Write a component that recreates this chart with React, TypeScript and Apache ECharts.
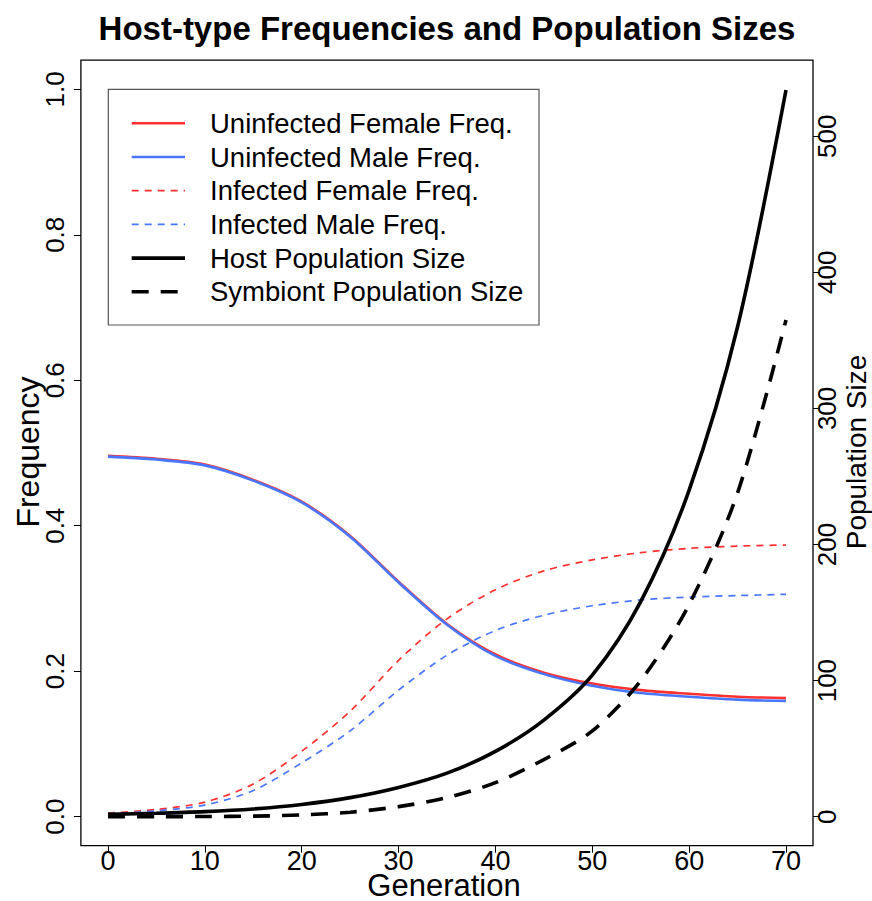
import React, { useEffect, useRef } from "react";
import * as echarts from "echarts";

// Generations sampled every 5 steps
const generations = [0, 5, 10, 15, 20, 25, 30, 35, 40, 45, 50, 55, 60, 65, 70];

// Host-type frequencies (left axis)
const uninfectedFemale = [0.496, 0.492, 0.484, 0.463, 0.433, 0.386, 0.323, 0.265, 0.223, 0.198, 0.183, 0.174, 0.169, 0.165, 0.163];
const uninfectedMale = [0.495, 0.491, 0.483, 0.462, 0.432, 0.385, 0.322, 0.264, 0.221, 0.196, 0.18, 0.17, 0.165, 0.161, 0.159];
const infectedFemale = [0.005, 0.01, 0.02, 0.045, 0.09, 0.145, 0.215, 0.272, 0.312, 0.338, 0.353, 0.363, 0.369, 0.372, 0.3735];
const infectedMale = [0.004, 0.008, 0.016, 0.036, 0.074, 0.118, 0.174, 0.222, 0.256, 0.277, 0.29, 0.298, 0.302, 0.304, 0.3057];

// Population sizes (right axis)
const hostPopulation = [1.7, 2.5, 3.7, 5.7, 9, 14, 21.5, 32, 48, 71, 104, 158, 240, 360, 534];
const symbiontPopulation = [0.01, 0.04, 0.13, 0.4, 1.3, 3.3, 7.4, 14, 25, 42, 63, 100, 156, 238, 365];

const seriesNames = [
  "Uninfected Female Freq.",
  "Uninfected Male Freq.",
  "Infected Female Freq.",
  "Infected Male Freq.",
  "Host Population Size",
  "Symbiont Population Size",
];

const TITLE = "Host-type Frequencies and Population Sizes";
const X_TITLE = "Generation";
const Y_LEFT_TITLE = "Frequency";
const Y_RIGHT_TITLE = "Population Size";

const RED = "#FF3030";
const BLUE = "#4876FF";
const BLACK = "#000000";
const FONT = "'Liberation Sans', Arial, Helvetica, sans-serif";

// Layout (pixels)
const W = 872;
const H = 901;
const dataLeft = 108;
const dataRight = 786;
const dataTop = 89.3; // frequency 1.0
const dataBottom = 816.7; // frequency 0.0 / population 0
const popAtTop = 534.5; // population value level with frequency 1.0
const popAxisMax = 500;
const box = { x1: 80.9, y1: 60.2, x2: 813, y2: 845.7 };

type LineDef = { color: string; width: number; dash: number[] | "solid" };
const styles: LineDef[] = [
  { color: RED, width: 2.6, dash: "solid" },
  { color: BLUE, width: 2.6, dash: "solid" },
  { color: RED, width: 1.7, dash: [7, 6] },
  { color: BLUE, width: 1.7, dash: [7, 6] },
  { color: BLACK, width: 3.6, dash: "solid" },
  { color: BLACK, width: 3.6, dash: [17, 12] },
];

const values = [uninfectedFemale, uninfectedMale, infectedFemale, infectedMale, hostPopulation, symbiontPopulation];

export default function App() {
  const ref = useRef<HTMLDivElement>(null);

  useEffect(() => {
    document.body.style.margin = "0";
    if (!ref.current) return;
    const chart = echarts.init(ref.current, undefined, { renderer: "svg" });

    const popGridTop = dataBottom - (popAxisMax / popAtTop) * (dataBottom - dataTop);

    const series = values.map((arr, i) => {
      const st = styles[i];
      const isPop = i >= 4;
      return {
        type: "line",
        name: seriesNames[i],
        xAxisIndex: isPop ? 1 : 0,
        yAxisIndex: isPop ? 1 : 0,
        data: generations.map((g, k) => [g, arr[k]]),
        showSymbol: false,
        symbol: "none",
        smooth: 0.3,
        clip: false,
        silent: true,
        lineStyle: { color: st.color, width: st.width, type: st.dash },
        z: 2 + i,
      };
    });

    const tickStyle = { show: true, length: 7, lineStyle: { color: "#000", width: 1 } };
    const hiddenLine = { show: false, onZero: false };

    // Legend drawn as a framed block
    const legX = 108.3;
    const legY = 89.3;
    const legW = 430.7;
    const legH = 235.7;
    const rowY0 = 123.3;
    const rowStep = 33.7;
    const legendChildren: any[] = [
      {
        type: "rect",
        shape: { x: legX, y: legY, width: legW, height: legH },
        style: { fill: "#fff", stroke: "#555", lineWidth: 1.2 },
      },
    ];
    seriesNames.forEach((name, i) => {
      const st = styles[i];
      const y = rowY0 + i * rowStep;
      legendChildren.push({
        type: "line",
        shape: { x1: 131.7, y1: y, x2: 185, y2: y },
        style: {
          stroke: st.color,
          lineWidth: st.width,
          lineDash: st.dash === "solid" ? null : st.dash,
        },
      });
      legendChildren.push({
        type: "text",
        x: 210,
        y,
        style: {
          text: name,
          fontSize: 27.5,
          fontFamily: FONT,
          fill: "#000",
          align: "left",
          verticalAlign: "middle",
        },
      });
    });

    chart.setOption({
      animation: false,
      backgroundColor: "#ffffff",
      textStyle: { fontFamily: FONT },
      grid: [
        { left: dataLeft, right: W - dataRight, top: dataTop, bottom: H - dataBottom },
        { left: dataLeft, right: W - dataRight, top: popGridTop, bottom: H - dataBottom },
      ],
      xAxis: [
        {
          type: "value",
          gridIndex: 0,
          position: "bottom",
          min: 0,
          max: 70,
          interval: 10,
          offset: box.y2 - dataBottom,
          axisLine: hiddenLine,
          axisTick: tickStyle,
          axisLabel: { fontSize: 27, lineHeight: 22, color: "#000", margin: 4, fontFamily: FONT },
          splitLine: { show: false },
        },
        { type: "value", gridIndex: 1, min: 0, max: 70, show: false, axisLine: hiddenLine },
      ],
      yAxis: [
        {
          type: "value",
          gridIndex: 0,
          position: "left",
          min: 0,
          max: 1,
          interval: 0.2,
          offset: dataLeft - box.x1,
          axisLine: hiddenLine,
          axisTick: tickStyle,
          axisLabel: {
            rotate: 90,
            fontSize: 26,
            color: "#000",
            margin: 13,
            fontFamily: FONT,
            formatter: (v: number) => v.toFixed(1),
          },
          splitLine: { show: false },
        },
        {
          type: "value",
          gridIndex: 1,
          position: "right",
          min: 0,
          max: popAxisMax,
          interval: 100,
          offset: box.x2 - dataRight,
          axisLine: hiddenLine,
          axisTick: tickStyle,
          axisLabel: { rotate: 90, fontSize: 26, color: "#000", margin: 1, fontFamily: FONT },
          splitLine: { show: false },
        },
      ],
      series,
      graphic: [
        {
          type: "rect",
          silent: true,
          z: 50,
          shape: { x: box.x1, y: box.y1, width: box.x2 - box.x1, height: box.y2 - box.y1 },
          style: { fill: "none", stroke: "#000", lineWidth: 1.3 },
        },
        {
          type: "text",
          x: (box.x1 + box.x2) / 2,
          y: 28,
          style: {
            text: TITLE,
            fontSize: 33,
            fontWeight: "bold",
            fontFamily: FONT,
            fill: "#000",
            align: "center",
            verticalAlign: "middle",
          },
        },
        {
          type: "text",
          x: 444,
          y: 885,
          style: {
            text: X_TITLE,
            fontSize: 31,
            lineHeight: 24,
            fontFamily: FONT,
            fill: "#000",
            align: "center",
            verticalAlign: "middle",
          },
        },
        {
          type: "text",
          x: 28,
          y: 452,
          rotation: Math.PI / 2,
          style: {
            text: Y_LEFT_TITLE,
            fontSize: 32,
            fontFamily: FONT,
            fill: "#000",
            align: "center",
            verticalAlign: "middle",
          },
        },
        {
          type: "text",
          x: 856,
          y: 452,
          rotation: Math.PI / 2,
          style: {
            text: Y_RIGHT_TITLE,
            fontSize: 28,
            fontFamily: FONT,
            fill: "#000",
            align: "center",
            verticalAlign: "middle",
          },
        },
        { type: "group", z: 40, children: legendChildren },
      ],
    });

    return () => chart.dispose();
  }, []);

  return <div ref={ref} style={{ width: W, height: H }} />;
}
